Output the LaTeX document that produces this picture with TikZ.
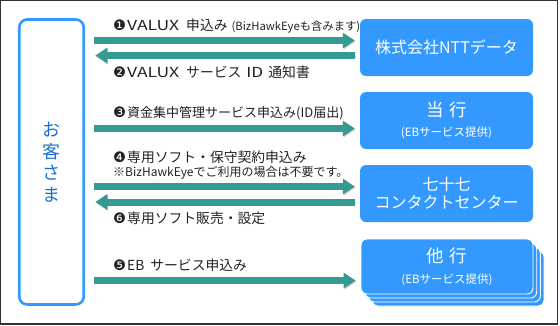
\documentclass[tikz,border=0pt]{standalone}
\usepackage{fontspec}
\usepackage{graphicx}
\setmainfont{Noto Sans CJK JP}
\newfontfamily\dingf{DejaVu Sans}
\usetikzlibrary{arrows.meta}
\definecolor{tealarr}{HTML}{349A92}
\definecolor{boxblue}{HTML}{3399FF}
\definecolor{custblue}{HTML}{1A6FD8}
\definecolor{framegray}{HTML}{333333}
\definecolor{lbltext}{HTML}{222222}
\newcommand{\dnum}[1]{{\dingf\fontsize{14.5}{16}\selectfont #1}\hspace{1pt}}
\newcommand{\valux}{\resizebox{52pt}{\height}{VALUX}}
\begin{document}
\begin{tikzpicture}[x=1pt,y=-1pt,
  bluebox/.style={fill=boxblue, rounded corners=6pt, minimum width=173pt, minimum height=57pt, inner sep=0pt, text=white, align=center},
  stackbox/.style={fill=boxblue, draw=white, line width=0.9pt, rounded corners=6pt, minimum width=172pt, minimum height=55pt, inner sep=0pt, text=white, align=center},
  custbox/.style={draw=boxblue, line width=2.6pt, rounded corners=8pt, minimum width=64.5pt, minimum height=285pt, inner sep=0pt, text=custblue, align=center, font=\fontsize{18}{21.5}\selectfont},
  arr/.style={draw=tealarr, line width=7pt, -{Triangle[length=12pt,width=15pt]},
    preaction={draw=black!22, transform canvas={xshift=0.8pt, yshift=-1pt}}},
  rarr/.style={arr, shorten <=9.25pt, shorten >=5pt},
  larr/.style={arr, shorten <=5pt, shorten >=10.25pt},
  lbl/.style={anchor=west, inner sep=0pt, text=lbltext, font=\fontsize{13.8}{16}\selectfont},
]
\useasboundingbox (0,0) rectangle (560,325);
\draw[framegray, line width=1.2pt] (0.6,0.6) rectangle (557.4,324.0);

% customer
\node[custbox] (cust) at (51.5,162) {お\\客\\さ\\ま};

% right boxes
\node[bluebox, font=\fontsize{16}{18}\selectfont] (ntt) at (446.5,47.5) {株式会社NTTデータ};
\node[bluebox, font=\fontsize{17.5}{20}\selectfont] (touko) at (446.5,120.5) {当\hspace{0.3em}行\\{\fontsize{11.5}{20}\selectfont (EBサービス提供)}};
\node[bluebox, font=\fontsize{16}{18}\selectfont] (cc) at (446.5,193.5) {七十七\\コンタクトセンター};

\node[stackbox] (takou3) at (458,278.5) {};
\node[stackbox] (takou2) at (454.3,274.5) {};
\node[stackbox] (takou1) at (450.7,270.5) {};
\node[stackbox, font=\fontsize{17.5}{21}\selectfont] (takou) at (447,266.5) {他\hspace{0.3em}行\\{\fontsize{11.5}{21}\selectfont (EBサービス提供)}};

% arrows
\draw[rarr] (cust.east |- 0,40.5) -- (ntt.west |- 0,40.5);
\draw[larr] (ntt.west |- 0,55.5) -- (cust.east |- 0,55.5);
\draw[rarr] (cust.east |- 0,128.5) -- (touko.west |- 0,128.5);
\draw[rarr] (cust.east |- 0,186.5) -- (cc.west |- 0,186.5);
\draw[larr] (cc.west |- 0,202) -- (cust.east |- 0,202);
\draw[rarr] (cust.east |- 0,280.5) -- (takou.west |- 0,280.5);

% labels
\node[lbl] (l1) at (113,26) {\dnum{❶}\valux\hspace{7pt}申込み\hspace{4pt}{\fontsize{11.3}{13}\selectfont (BizHawkEyeも含みます)}};
\node[lbl] (l2) at (113,72) {\dnum{❷}\valux\hspace{7pt}サービス\hspace{5pt}\resizebox{17pt}{\height}{ID}\hspace{5pt}通知書};
\node[lbl, font=\fontsize{13}{16}\selectfont] (l3) at (113,113) {\dnum{❸}資金集中管理サービス申込み(ID届出)};
\node[lbl] (l4) at (113,157) {\dnum{❹}専用ソフト・保守契約申込み};
\node[lbl, font=\fontsize{12}{14}\selectfont] (l4b) at (113,173) {※BizHawkEyeでご利用の場合は不要です。};
\node[lbl] (l6) at (113,218) {\dnum{❻}専用ソフト販売・設定};
\node[lbl] (l5) at (113,265.5) {\dnum{❺}EB\hspace{6pt}サービス申込み};
\end{tikzpicture}
\end{document}
